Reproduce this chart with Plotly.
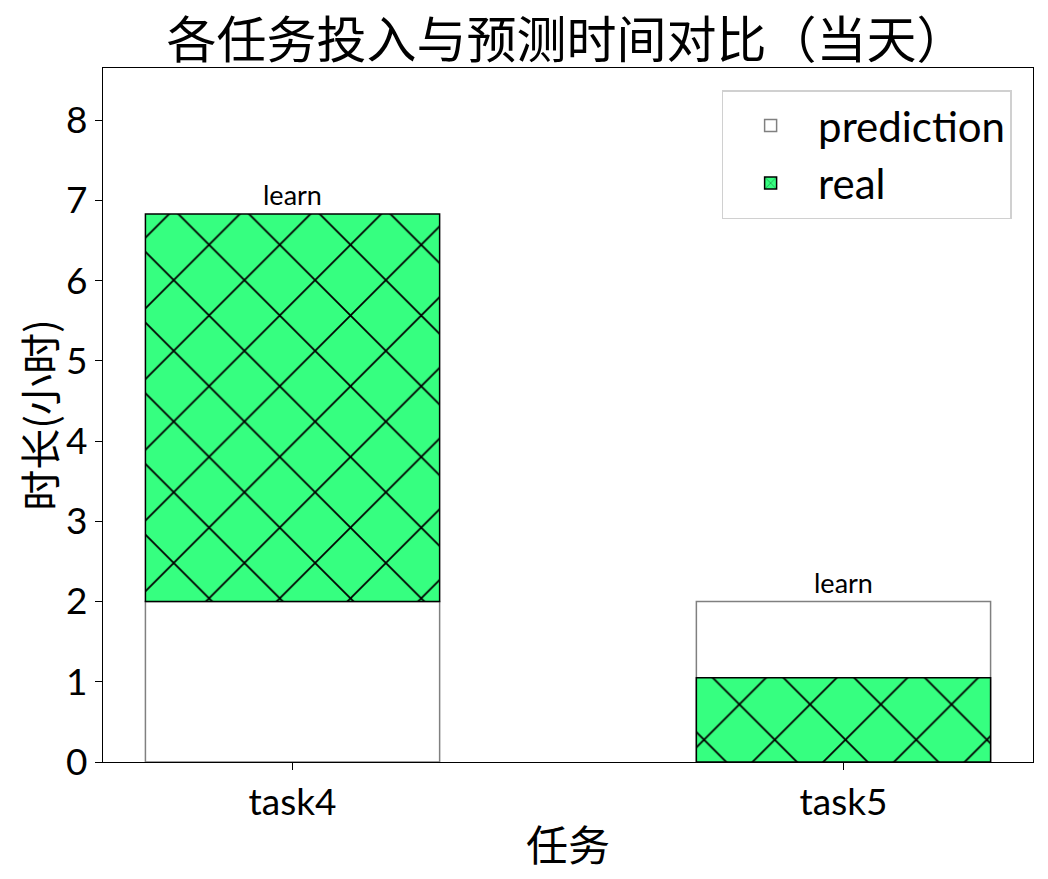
import plotly.graph_objects as go

categories = ["task4", "task5"]
prediction = [2.0, 2.0]
real = [6.83, 1.05]
real_base = [2.0, 0.0]
task_names = ["learn", "learn"]
y_ticks = [0, 1, 2, 3, 4, 5, 6, 7, 8]

LATIN = "Lato, 'Noto Sans CJK SC', sans-serif"
CJK = "'Noto Sans CJK SC', sans-serif"
GREEN = "#36FF80"
W = 0.534

fig = go.Figure()
fig.add_trace(go.Bar(
    x=categories, y=prediction, name="prediction", width=W,
    marker=dict(color="white", line=dict(color="#808080", width=1.5)),
))
fig.add_trace(go.Bar(
    x=categories, y=[r - b for r, b in zip(real, real_base)], base=real_base,
    name="real", width=W,
    marker=dict(color=GREEN, line=dict(color="black", width=1.5),
                pattern=dict(shape="x", size=50, solidity=0.07,
                             fgcolor="black", fgopacity=1, bgcolor=GREEN, fillmode="overlay")),
))

for c, p, r, name in zip(categories, prediction, real, task_names):
    fig.add_annotation(x=c, y=max(p, r), text=name, showarrow=False,
                       yanchor="bottom", yshift=1,
                       font=dict(family=LATIN, size=27, color="black"))

fig.update_layout(
    width=1040, height=871,
    barmode="overlay",
    paper_bgcolor="white", plot_bgcolor="white",
    margin=dict(l=95, r=15, t=60, b=117),
    title=dict(text="各任务投入与预测时间对比（当天）", x=0.537, xanchor="center",
               y=0.963, yanchor="middle",
               font=dict(family=CJK, size=50, color="black")),
    legend=dict(x=0.977, y=0.968, xanchor="right", yanchor="top",
                bgcolor="white", bordercolor="#d0d0d0", borderwidth=1.5,
                font=dict(family=LATIN, size=42, color="black"),
                itemwidth=85, tracegroupgap=8),
    showlegend=True,
)
fig.update_xaxes(
    range=[-0.344, 1.344], showline=True, linecolor="black", linewidth=1.3,
    mirror=True, ticks="outside", ticklen=7, tickwidth=1.3, tickcolor="black",
    tickfont=dict(family=LATIN, size=37, color="black"),
    title=dict(text="任务", font=dict(family=CJK, size=42, color="black"), standoff=10),
    showgrid=False, zeroline=False,
)
fig.update_yaxes(
    range=[0, 8.65], tickvals=y_ticks, showline=True, linecolor="black", linewidth=1.3,
    mirror=True, ticks="outside", ticklen=7, tickwidth=1.3, tickcolor="black",
    tickfont=dict(family=LATIN, size=37, color="black"),
    title=dict(text="时长(小时)", font=dict(family=CJK, size=41, color="black"), standoff=10),
    showgrid=False, zeroline=False,
)

fig.write_html("out.html")
